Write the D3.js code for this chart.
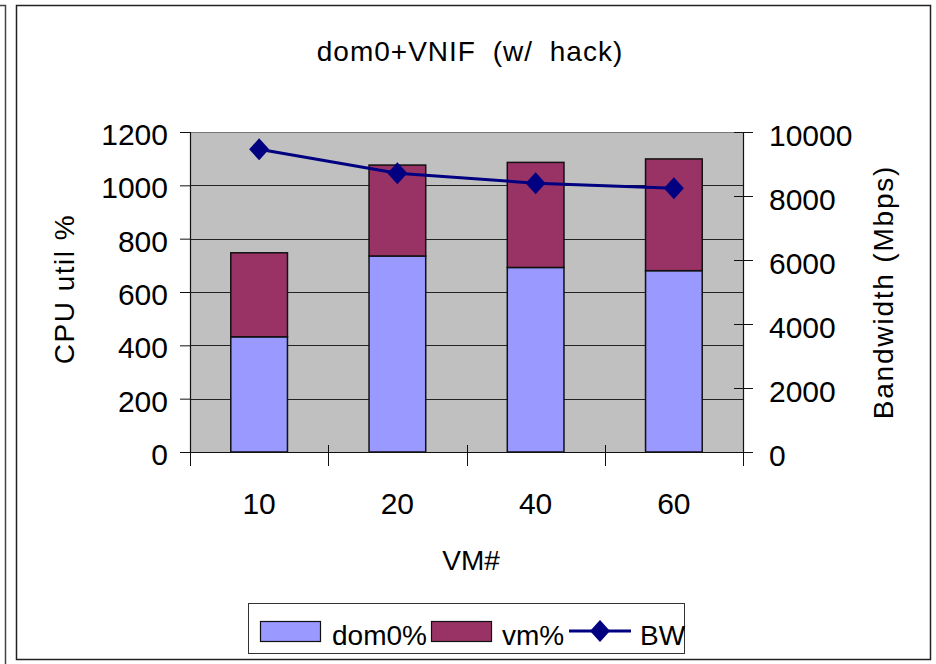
<!DOCTYPE html>
<html>
<head>
<meta charset="utf-8">
<script src="https://cdn.jsdelivr.net/npm/d3@7"></script>
<style>
  html, body { margin: 0; padding: 0; background: #fff; }
  svg { display: block; }
  text { font-family: "Liberation Sans", Arial, sans-serif; fill: #000; }
</style>
</head>
<body>
<svg id="chart" width="936" height="664"></svg>
<script>
// Data
const categories = ["10", "20", "40", "60"];
const dom0Pct = [432, 735, 692, 680];
const vmPct = [315, 341, 394, 419];
const bandwidth = [9460, 8710, 8400, 8240];
const cpuTicks = [0, 200, 400, 600, 800, 1000, 1200];
const bwTicks = [0, 2000, 4000, 6000, 8000, 10000];

const colors = { dom0: "#9999FF", vm: "#993366", bw: "#000080", plot: "#C0C0C0" };

const svg = d3.select("#chart");

// Frame of the neighbouring chart and of this chart
svg.append("path").attr("d", "M0,5.5H5.5V664").attr("fill", "none").attr("stroke", "#444").attr("stroke-width", 1.5);
svg.append("rect").attr("x", 16.5).attr("y", 5.5).attr("width", 914).attr("height", 654)
  .attr("fill", "#fff").attr("stroke", "#222").attr("stroke-width", 1.5);

const plot = { left: 190, right: 743, top: 132, bottom: 452 };

const x = d3.scaleBand().domain(categories).range([plot.left, plot.right]).padding(0);
const yL = d3.scaleLinear().domain([0, 1200]).range([plot.bottom, plot.top]);
const yR = d3.scaleLinear().domain([0, 10000]).range([plot.bottom, plot.top]);
const barW = x.bandwidth() * 0.41;

// Plot background
svg.append("rect").attr("x", plot.left).attr("y", plot.top)
  .attr("width", plot.right - plot.left).attr("height", plot.bottom - plot.top)
  .attr("fill", colors.plot);

// Horizontal gridlines from the CPU axis
svg.append("g").selectAll("line").data(cpuTicks.slice(1)).join("line")
  .attr("x1", plot.left).attr("x2", plot.right)
  .attr("y1", d => Math.round(yL(d)) + 0.5).attr("y2", d => Math.round(yL(d)) + 0.5)
  .attr("stroke", d => d === 1200 ? "#777" : "#222").attr("stroke-width", 1);

// Stacked bars
const stackData = categories.map((c, i) => ({ cat: c, dom0: dom0Pct[i], vm: vmPct[i] }));
const series = d3.stack().keys(["dom0", "vm"])(stackData);
svg.append("g").selectAll("g").data(series).join("g")
  .attr("fill", d => colors[d.key])
  .selectAll("rect").data(d => d).join("rect")
  .attr("x", d => x(d.data.cat) + (x.bandwidth() - barW) / 2)
  .attr("width", barW)
  .attr("y", d => yL(d[1]))
  .attr("height", d => yL(d[0]) - yL(d[1]))
  .attr("stroke", "#111").attr("stroke-width", 1.5);

const tickFont = sel => sel.style("font-size", "30px")
  .attr("font-family", "Liberation Sans, Arial, sans-serif");

// Left axis (CPU)
const gL = svg.append("g").attr("transform", `translate(${plot.left},0)`)
  .call(d3.axisLeft(yL).tickValues(cpuTicks).tickSize(10).tickPadding(12).tickFormat(d3.format("d")));
gL.select(".domain").attr("stroke", "#111").attr("stroke-width", 1.2);
gL.selectAll(".tick line").attr("stroke", "#111");
gL.selectAll(".tick text").call(tickFont).attr("y", 3);

// Right axis (Bandwidth) with crossing ticks
const gR = svg.append("g").attr("transform", `translate(${plot.right},0)`)
  .call(d3.axisRight(yR).tickValues(bwTicks).tickSize(10).tickPadding(16).tickFormat(d3.format("d")));
gR.select(".domain").attr("stroke", "#111").attr("stroke-width", 1.2);
gR.selectAll(".tick line").attr("stroke", "#111").attr("x1", -9);
gR.selectAll(".tick text").call(tickFont).attr("y", 4);

// Bottom axis: category labels and crossing boundary ticks
const gX = svg.append("g").attr("transform", `translate(0,${plot.bottom})`)
  .call(d3.axisBottom(x).tickSize(0).tickPadding(41));
gX.select(".domain").remove();
gX.selectAll(".tick text").call(tickFont);
const bounds = categories.map(c => x(c)).concat([x.range()[1]]);
svg.append("line").attr("x1", plot.left - 10).attr("x2", plot.right + 10)
  .attr("y1", plot.bottom + 0.5).attr("y2", plot.bottom + 0.5).attr("stroke", "#111").attr("stroke-width", 1.2);
svg.append("g").selectAll("line").data(bounds).join("line")
  .attr("x1", d => Math.round(d) + 0.5).attr("x2", d => Math.round(d) + 0.5)
  .attr("y1", (d, i) => (i === 0 || i === bounds.length - 1) ? plot.bottom : plot.bottom - 7)
  .attr("y2", plot.bottom + 14)
  .attr("stroke", "#111");

// Bandwidth line with diamond markers
const line = d3.line().x((d, i) => x(categories[i]) + x.bandwidth() / 2).y(d => yR(d));
svg.append("path").datum(bandwidth).attr("d", line)
  .attr("fill", "none").attr("stroke", colors.bw).attr("stroke-width", 3);
svg.append("g").selectAll("path").data(bandwidth).join("path")
  .attr("transform", (d, i) => `translate(${x(categories[i]) + x.bandwidth() / 2},${yR(d)})`)
  .attr("d", "M0,-11L10,0L0,11L-10,0Z").attr("fill", colors.bw);

// Titles
svg.append("text").attr("x", 470).attr("y", 61).attr("text-anchor", "middle")
  .style("font-size", "28px").style("letter-spacing", "1px").style("word-spacing", "8px")
  .text("dom0+VNIF (w/ hack)");
svg.append("text").attr("transform", "translate(74,289) rotate(-90)").attr("text-anchor", "middle")
  .style("font-size", "28px").style("letter-spacing", "1.5px").text("CPU util %");
svg.append("text").attr("transform", "translate(893,292) rotate(-90)").attr("text-anchor", "middle")
  .style("font-size", "28px").style("letter-spacing", "1.8px").text("Bandwidth (Mbps)");
svg.append("text").attr("x", 471).attr("y", 570).attr("text-anchor", "middle")
  .style("font-size", "28px").text("VM#");

// Legend
const lg = svg.append("g");
lg.append("rect").attr("x", 248.5).attr("y", 603.5).attr("width", 436).attr("height", 50)
  .attr("fill", "#fff").attr("stroke", "#333").attr("stroke-width", 1);
const legendItems = [
  { label: "dom0%", key: "dom0", type: "rect", x: 260, tx: 332 },
  { label: "vm%", key: "vm", type: "rect", x: 431, tx: 502 },
  { label: "BW", key: "bw", type: "line", x: 569, tx: 640 }
];
legendItems.forEach(it => {
  if (it.type === "rect") {
    lg.append("rect").attr("x", it.x + 0.5).attr("y", 621.5).attr("width", 60).attr("height", 20)
      .attr("fill", colors[it.key]).attr("stroke", "#111").attr("stroke-width", 1.2);
  } else {
    lg.append("line").attr("x1", it.x).attr("x2", it.x + 62).attr("y1", 631).attr("y2", 631)
      .attr("stroke", colors.bw).attr("stroke-width", 3);
    lg.append("path").attr("transform", `translate(${it.x + 31},631)`)
      .attr("d", "M0,-11L10,0L0,11L-10,0Z").attr("fill", colors.bw);
  }
  lg.append("text").attr("x", it.tx).attr("y", 645).style("font-size", "28px").text(it.label);
});
</script>
</body>
</html>
